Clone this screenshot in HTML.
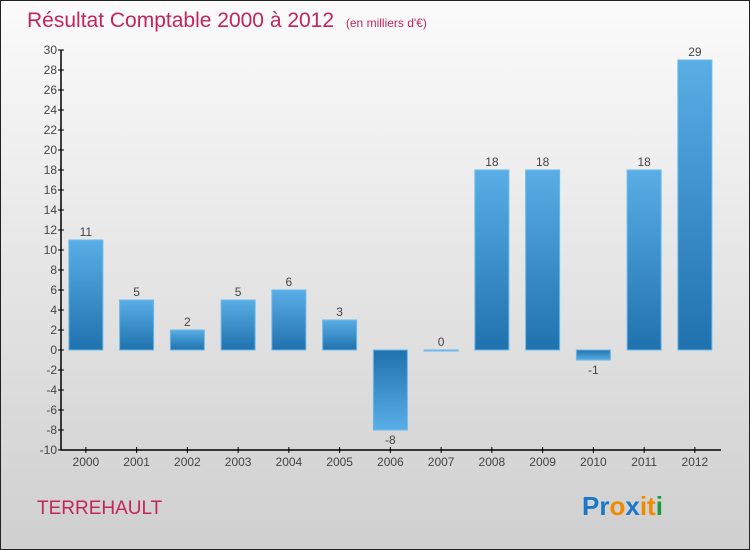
<!DOCTYPE html>
<html><head><meta charset="utf-8"><style>
body{margin:0;}
svg{display:block;font-family:"Liberation Sans",sans-serif;}
</style></head><body>
<svg id="chart" width="750" height="550">
<defs>
<linearGradient id="bg" x1="0" y1="0" x2="0" y2="1"><stop offset="0" stop-color="#fbfbfb"/><stop offset="1" stop-color="#cfcfcf"/></linearGradient>
<linearGradient id="pos" x1="0" y1="0" x2="0" y2="1"><stop offset="0" stop-color="#5aaee6"/><stop offset="1" stop-color="#1f72ad"/></linearGradient>
<linearGradient id="neg" x1="0" y1="0" x2="0" y2="1"><stop offset="0" stop-color="#1f72ad"/><stop offset="1" stop-color="#5aaee6"/></linearGradient>
</defs>
<rect x="0.5" y="0.5" width="749" height="549" fill="url(#bg)" stroke="#222"/>
<text x="27" y="27" font-size="21" fill="#c4245a">Résultat Comptable 2000 à 2012 <tspan font-size="12" dx="6">(en milliers d'€)</tspan></text>
<text x="37" y="514" font-size="19" fill="#c4245a">TERREHAULT</text>
<g font-size="26" font-weight="bold"><text x="582" y="515"><tspan fill="#1a78c8">Pr</tspan><tspan fill="#f08a00">o</tspan><tspan fill="#1a78c8">x</tspan><tspan fill="#f08a00">it</tspan><tspan fill="#1a9a3a">i</tspan></text></g>
<g id="yaxis"></g><g id="xaxis"></g><g id="bars"></g>
</svg>
<script>
const years=["2000","2001","2002","2003","2004","2005","2006","2007","2008","2009","2010","2011","2012"];
const values=[11,5,2,5,6,3,-8,0,18,18,-1,18,29];
const yTicks=[30,28,26,24,22,20,18,16,14,12,10,8,6,4,2,0,-2,-4,-6,-8,-10];
const NS="http://www.w3.org/2000/svg";
const x0=61,x1=721,yTop=50,yBot=450,yMax=30,yMin=-10;
const y=v=>yTop+(yMax-v)*(yBot-yTop)/(yMax-yMin);
const bandStart=60.5,band=50.75;
const xc=i=>bandStart+band*(i+0.5);
function mk(t,a,p){const e=document.createElementNS(NS,t);for(const k in a)e.setAttribute(k,a[k]);p.appendChild(e);return e;}
const ya=document.getElementById('yaxis'),xa=document.getElementById('xaxis'),bars=document.getElementById('bars');
const yl=mk('line',{x1:x0,y1:yTop,x2:x0,y2:yBot,stroke:'#000','stroke-width':1.5},ya);


yTicks.forEach(v=>{
 mk('line',{x1:x0-3,y1:y(v),x2:x0+3,y2:y(v),stroke:'#000'},ya);
 const t=mk('text',{x:x0-4,y:y(v)+4,'text-anchor':'end','font-size':12,fill:'#444'},ya);
 t.textContent=v;
 
 
});
const xl=mk('line',{x1:x0,y1:yBot,x2:x1,y2:yBot,stroke:'#000','stroke-width':1.5},xa);


years.forEach((yr,i)=>{
 mk('line',{x1:xc(i),y1:yBot-3,x2:xc(i),y2:yBot+3,stroke:'#000'},xa);
 const t=mk('text',{x:xc(i),y:yBot+16,'text-anchor':'middle','font-size':12,fill:'#444'},xa);
 t.textContent=yr;
 
 
});
values.forEach((v,i)=>{
 const top=Math.min(y(v),y(0)),h=Math.max(Math.abs(y(v)-y(0)),1);
 const r=mk('rect',{x:xc(i)-17,y:top,width:34,height:h,fill:v>=0?'url(#pos)':'url(#neg)',stroke:'#6bb8ec','stroke-width':1},bars);
 
 
 const t=mk('text',{x:xc(i),y:v>=0?y(v)-4:y(v)+14,'text-anchor':'middle','font-size':12,fill:'#444'},bars);
 t.textContent=v;
 
 
});
</script>
</body></html>
